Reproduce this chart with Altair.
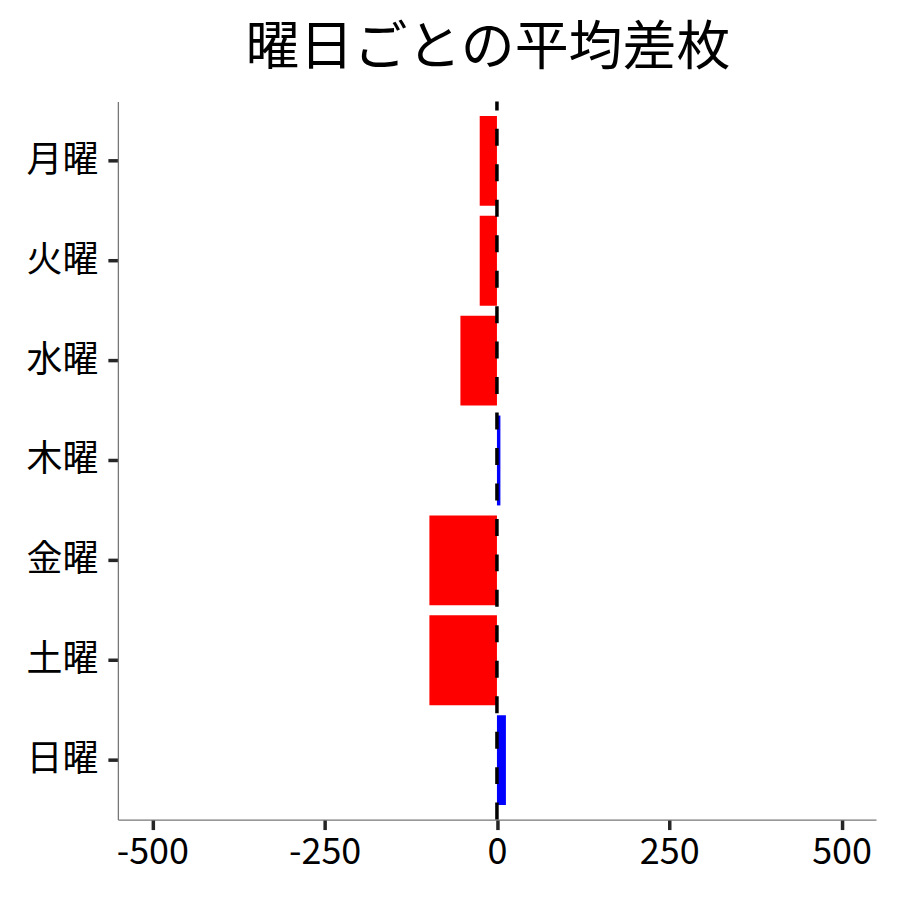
import altair as alt
import pandas as pd

days = ["月曜", "火曜", "水曜", "木曜", "金曜", "土曜", "日曜"]
values = [-25, -25, -53, 5, -98, -98, 13]
x_ticks = [-500, -250, 0, 250, 500]

df = pd.DataFrame({"day": days, "value": values})
zero_df = pd.DataFrame({"zero": [0]})

FONT = "Noto Sans CJK JP"
W, H = 759, 719

y_enc = alt.Y("day:N", sort=days, title=None,
              scale=alt.Scale(paddingInner=0.1, paddingOuter=0.145),
              axis=alt.Axis(labelFontSize=36, labelFont=FONT, labelColor="black",
                            labelPadding=10, tickSize=10, tickWidth=3.5, tickColor="#262626",
                            domainColor="#777777", domainWidth=1.3, grid=False))

bars = alt.Chart(df).mark_bar().encode(
    x=alt.X("value:Q", title=None,
            scale=alt.Scale(domain=[-550, 550], nice=False, zero=False),
            axis=alt.Axis(values=x_ticks, labelFontSize=36, labelFont=FONT,
                          labelColor="black", labelPadding=6, tickSize=10, tickWidth=3.5,
                          tickColor="#262626", domainColor="#777777", domainWidth=1.3,
                          grid=False, labelFlush=False,
                          labelExpr="toString(datum.value)")),
    y=y_enc,
    color=alt.condition(alt.datum.value < 0, alt.value("#ff0000"), alt.value("#0000ff")),
)

rule = alt.Chart(zero_df).mark_rule(color="black", strokeWidth=3.5,
                                    strokeDash=[17, 18.5]).encode(
    x="zero:Q",
    y=alt.value(H),
    y2=alt.value(0),
)

chart = alt.layer(bars, rule).properties(
    width=W, height=H,
    title=alt.TitleParams("曜日ごとの平均差枚", fontSize=54, font=FONT, fontWeight="normal",
                          color="black", anchor="middle", dx=-9, offset=24),
    autosize=alt.AutoSizeParams(type="none"),
    padding={"left": 110, "top": 93, "right": 16, "bottom": 70},
).configure(background="white").configure_view(stroke=None)

chart.save("out.html", embed_options={"renderer": "svg", "actions": False})
